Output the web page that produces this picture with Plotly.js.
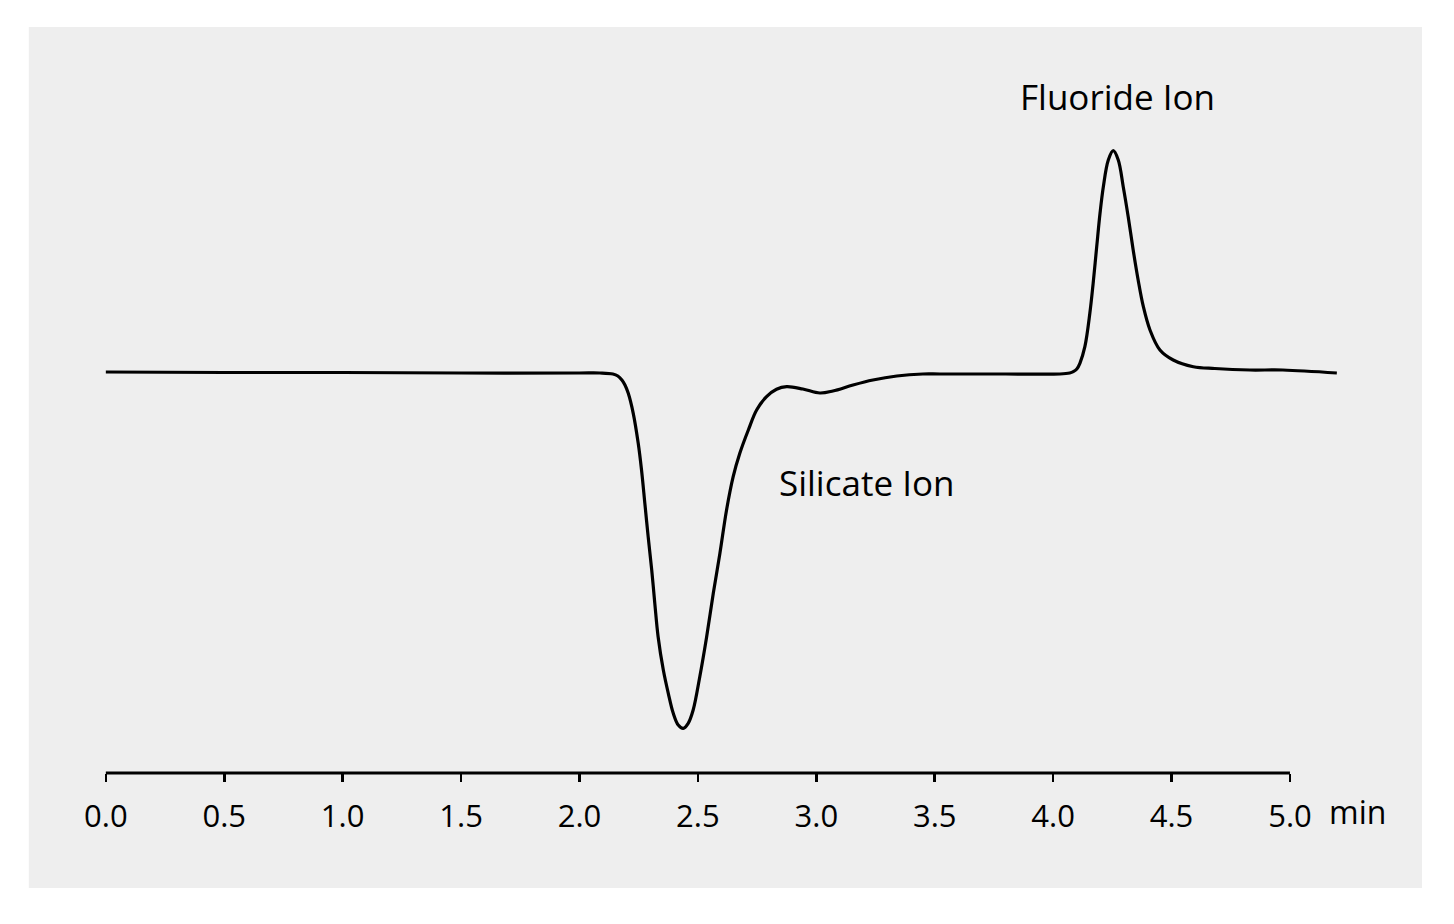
<!DOCTYPE html>
<html>
<head>
<meta charset="utf-8">
<script src="https://cdn.plot.ly/plotly-3.0.1.min.js"></script>
<style>html,body{margin:0;padding:0;background:#fff;}#chart{width:1454px;height:924px;}</style>
</head>
<body>
<div id="chart"></div>
<script>
// Retention time (min)
const timeMin = [0.00, 0.50, 1.00, 1.50, 2.00, 2.086, 2.141, 2.162, 2.179, 2.192, 2.206, 2.227, 2.248, 2.262, 2.276, 2.290, 2.305,
  2.318, 2.332, 2.354, 2.375, 2.396, 2.417, 2.438, 2.459, 2.480, 2.508, 2.537, 2.565, 2.593, 2.621, 2.649, 2.677,
  2.713, 2.748, 2.790, 2.832, 2.875, 2.943, 3.015, 3.070, 3.155, 3.239, 3.340, 3.450, 3.522, 3.80,
  4.029, 4.070, 4.085, 4.100, 4.113, 4.134, 4.155, 4.169, 4.184, 4.198, 4.212, 4.233, 4.254, 4.275, 4.296, 4.317, 4.338, 4.359,
  4.381, 4.409, 4.451, 4.507, 4.592, 4.683, 4.831, 4.970, 5.198];
// Detector signal (arbitrary units)
const signal = [0.0, -0.05, -0.05, -0.1, -0.1, -0.1, -0.2, -0.4, -0.8, -1.3, -2.13, -4.13, -7.13, -9.8, -13.13, -16.47, -19.8,
  -23.13, -26.47, -29.8, -32.13, -34.13, -35.3, -35.63, -35.13, -33.8, -30.47, -26.47, -22.13, -18.13, -13.8, -10.47, -8.13,
  -5.8, -3.8, -2.47, -1.73, -1.47, -1.7, -2.1, -1.9, -1.3, -0.8, -0.4, -0.2, -0.2, -0.2,
  -0.2, -0.1, 0.03, 0.3, 0.87, 2.53, 5.87, 8.87, 12.53, 15.87, 18.53, 21.2, 22.13, 21.2, 18.53, 15.53, 12.2, 9.2,
  6.53, 4.2, 2.2, 1.2, 0.53, 0.35, 0.2, 0.2, -0.1];
const tickValues = [0, 0.5, 1, 1.5, 2, 2.5, 3, 3.5, 4, 4.5, 5];
const tickLabels = ["0.0", "0.5", "1.0", "1.5", "2.0", "2.5", "3.0", "3.5", "4.0", "4.5", "5.0"];
const peakLabels = ["Fluoride Ion", "Silicate Ion"];
const peakLabelX = [4.27, 3.21];
const peakLabelY = [27.6, -11.0];
const unitLabel = "min";

const W = 1454, H = 924;
const mL = 94.16, mR = 93, mT = 60, mB = 151;
const plotW = W - mL - mR, plotH = H - mT - mB;
function px2paperX(p){ return (p - mL) / plotW; }
function px2paperY(p){ return (H - mB - p) / plotH; }

const font = "Open Sans, Noto Sans, sans-serif";

const trace = {
  x: timeMin, y: signal, type: 'scatter', mode: 'lines',
  line: {color: '#000', width: 3.2, shape: 'spline', smoothing: 1},
  hoverinfo: 'skip'
};

const annotations = peakLabels.map((t, i) => ({
  text: t, x: peakLabelX[i], y: peakLabelY[i], xref: 'x', yref: 'y',
  showarrow: false, xanchor: 'center', yanchor: 'middle',
  font: {family: font, size: 35, color: '#000'}
}));
annotations.push({
  text: unitLabel, x: 5, xref: 'x', y: 0, yref: 'paper', xanchor: 'left', yanchor: 'middle',
  xshift: 37, yshift: -38, showarrow: false,
  font: {family: font, size: 32, color: '#000'}
});

const layout = {
  width: W, height: H,
  margin: {l: mL, r: mR, t: mT, b: mB, pad: 0},
  paper_bgcolor: '#ffffff', plot_bgcolor: 'rgba(0,0,0,0)',
  showlegend: false,
  xaxis: {
    range: [-0.05, 5.3], showgrid: false, zeroline: false, showline: false,
    tickmode: 'array', tickvals: tickValues, ticktext: tickLabels,
    ticks: 'outside', ticklen: 8, tickwidth: 2.5, tickcolor: '#000',
    ticklabelstandoff: 8,
    tickfont: {family: font, size: 31, color: '#000'}, fixedrange: true
  },
  yaxis: {
    range: [-40.1, 31.2], visible: false, fixedrange: true
  },
  shapes: [
    {type: 'rect', xref: 'paper', yref: 'paper', layer: 'below',
     x0: px2paperX(29), x1: px2paperX(1422), y0: px2paperY(888), y1: px2paperY(27),
     fillcolor: '#eeeeee', line: {width: 0}},
    {type: 'line', xref: 'x', yref: 'paper', x0: tickValues[0], x1: tickValues[tickValues.length-1], y0: 0, y1: 0,
     line: {color: '#000', width: 3}}
  ],
  annotations: annotations
};

Plotly.newPlot('chart', [trace], layout, {displayModeBar: false, staticPlot: true});
</script>
</body>
</html>
